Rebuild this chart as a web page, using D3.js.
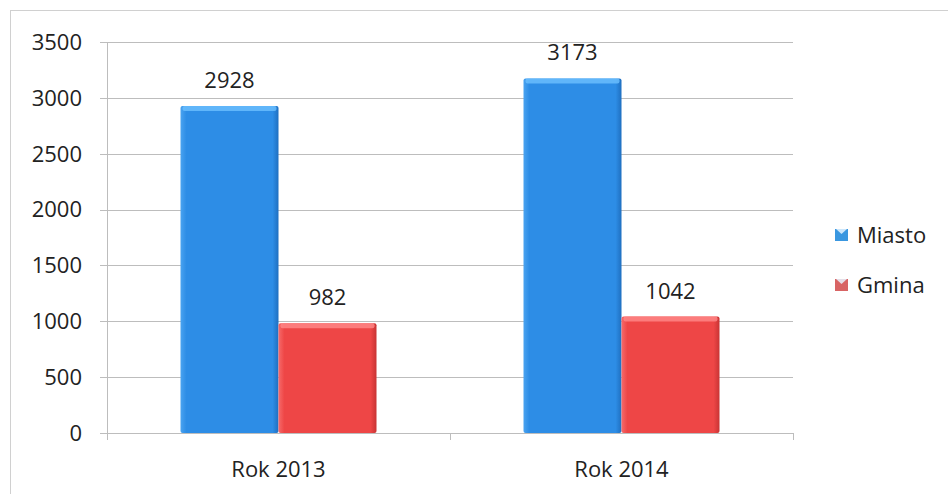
<!DOCTYPE html>
<html><head><meta charset="utf-8">
<script src="https://cdn.jsdelivr.net/npm/d3@7/dist/d3.min.js"></script>
<style>body{margin:0;background:#fff}svg{display:block}text{font-family:"Open Sans","Noto Sans",sans-serif;fill:#222}</style>
</head><body>
<svg id="c" width="948" height="494"></svg>
<script>
const categories = ["Rok 2013", "Rok 2014"];
const seriesNames = ["Miasto", "Gmina"];
const miasto = [2928, 3173];
const gmina = [982, 1042];
const yTicks = [0, 500, 1000, 1500, 2000, 2500, 3000, 3500];

const svg = d3.select("#c");
const m = {l:107, r:793, t:42, b:433};
const FS = 22;
const x = d3.scaleBand().domain(categories).range([m.l, m.r]).paddingInner(0).paddingOuter(0);
const xs = d3.scaleBand().domain(seriesNames).range([0, x.bandwidth()]).paddingInner(0).paddingOuter(0.75);
const y = d3.scaleLinear().domain([0, 3500]).range([m.b, m.t]);

// outer frame
svg.append("rect").attr("x",10.5).attr("y",10.5).attr("width",940).attr("height",490)
  .attr("fill","none").attr("stroke","#d0d0d0");

const defs = svg.append("defs");
function grads(id, light, mid, dark){
  const g = defs.append("linearGradient").attr("id",id).attr("x1",0).attr("x2",1).attr("y1",0).attr("y2",0);
  g.append("stop").attr("offset","0%").attr("stop-color",light);
  g.append("stop").attr("offset","6%").attr("stop-color",mid);
  g.append("stop").attr("offset","94%").attr("stop-color",mid);
  g.append("stop").attr("offset","100%").attr("stop-color",dark);
}
grads("gb","#4aa3f0","#2d8de6","#1f6fc0");
grads("gr","#f66a6a","#ee4646","#c83434");
const colors = {Miasto:{fill:"url(#gb)",top:"#6dc0ff",solid:"#3a97e0"}, Gmina:{fill:"url(#gr)",top:"#ff8a8a",solid:"#d86464"}};

// gridlines + y ticks
svg.append("g").selectAll("line").data(yTicks).join("line")
  .attr("x1",m.l-7).attr("x2",m.r).attr("y1",d=>Math.round(y(d))+0.5).attr("y2",d=>Math.round(y(d))+0.5)
  .attr("stroke","#bdbdbd").attr("stroke-width",1);
svg.append("line").attr("x1",m.l+0.5).attr("x2",m.l+0.5).attr("y1",m.t).attr("y2",m.b).attr("stroke","#bdbdbd");
const xt = [m.l, m.l + x.bandwidth(), m.r];
svg.append("g").selectAll("line").data(xt).join("line")
  .attr("x1",d=>d+0.5).attr("x2",d=>d+0.5).attr("y1",m.b).attr("y2",m.b+7).attr("stroke","#bdbdbd");

svg.append("g").selectAll("text").data(yTicks).join("text")
  .attr("x",m.l-25).attr("y",d=>y(d)).attr("dy","0.36em").attr("text-anchor","end")
  .attr("font-size",FS).text(d=>d);

svg.append("g").selectAll("text").data(categories).join("text")
  .attr("x",d=>x(d)+x.bandwidth()/2).attr("y",477).attr("text-anchor","middle")
  .attr("font-size",FS).text(d=>d);

const data = [];
categories.forEach((c,i)=>{
  data.push({c, s:"Miasto", v:miasto[i]});
  data.push({c, s:"Gmina", v:gmina[i]});
});

const bars = svg.append("g").selectAll("g").data(data).join("g");
bars.append("rect")
  .attr("x",d=>x(d.c)+xs(d.s)).attr("width",xs.bandwidth())
  .attr("y",d=>y(d.v)).attr("height",d=>y(0)-y(d.v))
  .attr("rx",2).attr("fill",d=>colors[d.s].fill);
bars.append("rect")
  .attr("x",d=>x(d.c)+xs(d.s)+2).attr("width",xs.bandwidth()-4)
  .attr("y",d=>y(d.v)).attr("height",5)
  .attr("rx",2).attr("fill",d=>colors[d.s].top).attr("opacity",0.8);

bars.append("text")
  .attr("x",d=>x(d.c)+xs(d.s)+xs.bandwidth()/2).attr("y",d=>y(d.v)-26)
  .attr("dy","0.36em")
  .attr("text-anchor","middle").attr("font-size",FS).text(d=>d.v);

// legend
const lg = svg.append("g").selectAll("g").data(seriesNames).join("g")
  .attr("transform",(d,i)=>`translate(835,${229+i*50})`);
lg.append("rect").attr("width",13).attr("height",12).attr("fill",d=>colors[d].solid);
lg.append("path").attr("d","M1,0 L6.5,5 L12,0 Z").attr("fill","#e8f4ff").attr("opacity",0.85);
lg.append("text").attr("x",22).attr("y",6).attr("dy","0.36em").attr("font-size",FS).text(d=>d);
</script>
</body></html>
